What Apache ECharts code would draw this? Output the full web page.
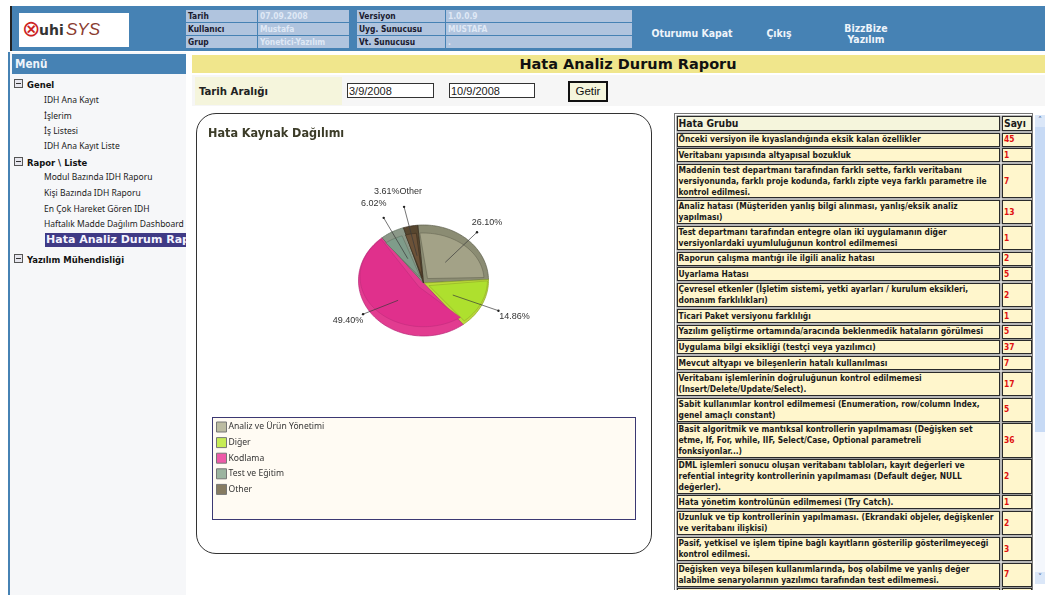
<!DOCTYPE html>
<html lang="tr">
<head>
<meta charset="utf-8">
<title>Hata Analiz Durum Raporu</title>
<script src="https://cdn.jsdelivr.net/npm/echarts@6/dist/echarts.min.js"></script>
<style>
  html, body { margin: 0; padding: 0; background: #fff; }
  body { position: relative; width: 1045px; height: 595px; overflow: hidden; font-family: "DejaVu Sans", sans-serif; }
  .box { position: absolute; box-sizing: border-box; }
  .txt { position: absolute; white-space: pre; line-height: 1; }
  .vb { font-family: "DejaVu Sans Condensed", "DejaVu Sans", sans-serif; font-weight: bold; }
  .wb { font-family: "DejaVu Sans", sans-serif; font-weight: bold; }
  #topbar { left: 10px; top: 6px; width: 1035px; height: 45px; background: #4682b4; border-left: 2px solid #222; }
  #logo { left: 19px; top: 13px; width: 110px; height: 34px; background: #fff; }
  .infocell { position: absolute; background: #b0c4de; height: 12.4px; font-size: 8.4px; line-height: 12px; padding-left: 2px; box-sizing: border-box; white-space: pre; }
  .infolabel { color: #1a1a2e; }
  .infovalue { color: #dfe8f5; }
  .toplink { position: absolute; color: #eef4fa; font-size: 10.4px; text-align: center; line-height: 11px; white-space: pre; }
  #side { left: 8px; top: 52px; width: 178px; height: 543px; background: #f6f7f9; border-left: 2px solid #4682b4; }
  #menuhead { left: 12px; top: 54px; width: 174px; height: 20px; background: #4682b4; color: #eef4fa; font-size: 11.6px; line-height: 20px; padding-left: 3px; }
  .menuitem { position: absolute; left: 44px; font-family: "Noto Sans", sans-serif; font-size: 8.5px; color: #222; line-height: 1; white-space: pre; }
  .menugroup { position: absolute; left: 27px; font-size: 9.4px; color: #111; line-height: 1; white-space: pre; }
  .expander { position: absolute; left: 14px; width: 9px; height: 9px; box-sizing: border-box; border: 1px solid #555; background: #e6e6ee; }
  .expander::after { content: ""; position: absolute; left: 1px; right: 1px; top: 3px; height: 1px; background: #333; }
  #selected { left: 45px; top: 233px; width: 141px; height: 14px; background: #3f3a85; color: #f4f4ff; font-size: 11px; line-height: 14px; padding-left: 1px; overflow: hidden; white-space: pre; }
  #titlebar { left: 192px; top: 55px; width: 853px; height: 18px; padding-left: 19px; background: #f0e68c; color: #111; font-size: 14.5px; line-height: 18px; text-align: center; }
  #filterrow { left: 192px; top: 75px; width: 853px; height: 31px; background: #f6f6f6; }
  #rangecell { left: 195px; top: 77px; width: 147px; height: 28px; background: #f5f5dc; color: #222; font-size: 11.3px; line-height: 30px; padding-left: 4px; }
  .dateinput { position: absolute; top: 83px; height: 15px; box-sizing: border-box; background: #fff; border: 1px solid #333; font-family: "Liberation Sans", sans-serif; font-size: 11px; line-height: 14px; padding-left: 1px; color: #222; }
  #fetch { left: 568px; top: 81px; width: 40px; height: 21px; background: #f5f5dc; border: 2.5px solid #111; font-family: "Liberation Sans", sans-serif; font-size: 11.5px; line-height: 16px; text-align: center; color: #111; }
  #panel { left: 196px; top: 113px; width: 456px; height: 441px; background: #fff; border: 1px solid #333; border-radius: 20px; }
  #legendbox { left: 212px; top: 417px; width: 424px; height: 103px; background: #fffbf3; border: 1px solid #3b3872; }
  #chart { position: absolute; left: 196px; top: 113px; width: 456px; height: 441px; }
  #gridwrap { left: 674px; top: 113px; width: 359px; height: 477px; overflow: hidden; border: 1px solid #777; border-bottom: 0; }
  .cell { position: absolute; box-sizing: border-box; border: 1px solid #2a2a2a; box-shadow: 0 0 0 0.6px #888; padding: 0 1px; background: #fff6cc; color: #1a1a1a; font-size: 8.4px; line-height: 10.8px; white-space: pre; overflow: hidden; display: flex; align-items: center; }
  .cell.head { background: #f5f5dc; font-size: 10.3px; color: #1a1a1a; }
  .cell.count { color: #e01010; }
  #scroll { left: 1035px; top: 115px; width: 10px; height: 469px; background: #f4f7fc; }
  #thumb { left: 1035px; top: 127px; width: 10px; height: 305px; background: #c7daf5; }
  .arrow { position: absolute; left: 1035px; width: 10px; height: 12px; background: #dbe7f8; color: #4a6a9a; font-size: 8px; line-height: 12px; text-align: center; }
</style>
</head>
<body>
<div class="box" id="topbar"></div>
<div class="box" id="logo"></div>
<div class="txt" style="left:22px;top:18px;font-size:22px;font-family:'DejaVu Sans',sans-serif;color:#c22">&#8855;</div>
<div class="txt wb" style="left:39px;top:23px;font-size:14px;color:#333">uhi</div>
<div class="txt" style="left:66px;top:21px;font-size:17px;font-family:'Liberation Sans',sans-serif;font-style:italic;color:#8a3c30">SYS</div>
<div id="info"></div>
<div class="toplink vb" style="left:640px;top:28px;width:104px">Oturumu Kapat</div>
<div class="toplink vb" style="left:760px;top:28px;width:38px">Çıkış</div>
<div class="toplink vb" style="left:836px;top:23px;width:60px">BizzBize
Yazılım</div>

<div class="box" id="side"></div>
<div class="box vb" id="menuhead">Menü</div>
<div id="menu"></div>
<div class="box wb" id="selected">Hata Analiz Durum Raporu</div>

<div class="box wb" id="titlebar">Hata Analiz Durum Raporu</div>
<div class="box" id="filterrow"></div>
<div class="box vb" id="rangecell">Tarih Aralığı</div>
<div class="dateinput" style="left:347px;width:87px">3/9/2008</div>
<div class="dateinput" style="left:449px;width:86px">10/9/2008</div>
<div class="box" id="fetch">Getir</div>

<div class="box" id="panel"></div>
<div class="box" id="legendbox"></div>
<div id="chart"></div>

<div class="box" id="gridwrap"></div>
<div class="box" id="scroll"></div>
<div class="box" id="thumb"></div>
<div class="arrow" style="top:115px">&#708;</div>
<div class="arrow" style="top:572px">&#709;</div>

<script>
// Error source distribution (percent of all reported errors)
const sourceNames = ['Analiz ve Ürün Yönetimi', 'Diğer', 'Kodlama', 'Test ve Eğitim', 'Other'];
const sourceShares = [26.10, 14.86, 49.40, 6.02, 3.61];
const sourceLabels = ['26.10%', '14.86%', '49.40%', '6.02%', '3.61%Other'];

// Error groups and how many errors fell in each
const errorGroups = [
  'Önceki versiyon ile kıyaslandığında eksik kalan özellikler',
  'Veritabanı yapısında altyapısal bozukluk',
  'Maddenin test departmanı tarafından farklı sette, farklı veritabanı\nversiyonunda, farklı proje kodunda, farklı zipte veya farklı parametre ile\nkontrol edilmesi.',
  'Analiz hatası (Müşteriden yanlış bilgi alınması, yanlış/eksik analiz\nyapılması)',
  'Test departmanı tarafından entegre olan iki uygulamanın diğer\nversiyonlardaki uyumluluğunun kontrol edilmemesi',
  'Raporun çalışma mantığı ile ilgili analiz hatası',
  'Uyarlama Hatası',
  'Çevresel etkenler (İşletim sistemi, yetki ayarları / kurulum eksikleri,\ndonanım farklılıkları)',
  'Ticari Paket versiyonu farklılığı',
  'Yazılım geliştirme ortamında/aracında beklenmedik hataların görülmesi',
  'Uygulama bilgi eksikliği (testçi veya yazılımcı)',
  'Mevcut altyapı ve bileşenlerin hatalı kullanılması',
  'Veritabanı işlemlerinin doğruluğunun kontrol edilmemesi\n(Insert/Delete/Update/Select).',
  'Sabit kullanımlar kontrol edilmemesi (Enumeration, row/column Index,\ngenel amaçlı constant)',
  'Basit algoritmik ve mantıksal kontrollerin yapılmaması (Değişken set\netme, If, For, while, IIF, Select/Case, Optional parametreli\nfonksiyonlar...)',
  'DML işlemleri sonucu oluşan veritabanı tabloları, kayıt değerleri ve\nrefential integrity kontrollerinin yapılmaması (Default değer, NULL\ndeğerler).',
  'Hata yönetim kontrolünün edilmemesi (Try Catch).',
  'Uzunluk ve tip kontrollerinin yapılmaması. (Ekrandaki objeler, değişkenler\nve veritabanı ilişkisi)',
  'Pasif, yetkisel ve işlem tipine bağlı kayıtların gösterilip gösterilmeyeceği\nkontrol edilmesi.',
  'Değişken veya bileşen kullanımlarında, boş olabilme ve yanlış değer\nalabilme senaryolarının yazılımcı tarafından test edilmemesi.'
];
const errorCounts = [45, 1, 7, 13, 1, 2, 5, 2, 1, 5, 37, 7, 17, 5, 36, 2, 1, 2, 3, 7];

// Header information block
const infoRows = [
  ['Tarih', '07.09.2008', 'Versiyon', '1.0.0.9'],
  ['Kullanıcı', 'Mustafa', 'Uyg. Sunucusu', 'MUSTAFA'],
  ['Grup', 'Yönetici-Yazılım', 'Vt. Sunucusu', '.']
];

// Navigation tree: [label, isGroup, top]
const menuEntries = [
  ['Genel', true, 80], ['IDH Ana Kayıt', false, 96], ['İşlerim', false, 111.5],
  ['İş Listesi', false, 127], ['IDH Ana Kayıt Liste', false, 142],
  ['Rapor \\ Liste', true, 158], ['Modul Bazında IDH Raporu', false, 173],
  ['Kişi Bazında IDH Raporu', false, 189], ['En Çok Hareket Gören IDH', false, 204.5],
  ['Haftalık Madde Dağılım Dashboard', false, 219.5], ['Yazılım Mühendisliği', true, 255]
];

// Page chrome built from the lists above
const infoHost = document.getElementById('info');
const infoCols = [[186, 71], [258, 91], [357, 88], [446, 186]];
infoRows.forEach((row, r) => row.forEach((text, c) => {
  const el = document.createElement('div');
  el.className = 'infocell vb ' + (c % 2 ? 'infovalue' : 'infolabel');
  el.style.left = infoCols[c][0] + 'px';
  el.style.width = infoCols[c][1] + 'px';
  el.style.top = 10 + r * 13 + 'px';
  el.textContent = text;
  infoHost.appendChild(el);
}));

const menuHost = document.getElementById('menu');
menuEntries.forEach(([text, isGroup, top]) => {
  const el = document.createElement('div');
  el.className = isGroup ? 'menugroup vb' : 'menuitem';
  el.style.top = top + 'px';
  el.textContent = text;
  menuHost.appendChild(el);
  if (isGroup) {
    const ex = document.createElement('div');
    ex.className = 'expander';
    ex.style.top = top - 1 + 'px';
    menuHost.appendChild(ex);
  }
});

// Error table: rows stacked by the number of text lines they hold
const gridHost = document.getElementById('gridwrap');
const rowPitch = { 1: 15.75, 2: 25.75, 3: 36 };
function addCell(text, cls, left, top, width, height) {
  const el = document.createElement('div');
  el.className = 'cell vb ' + cls;
  el.style.cssText = `left:${left}px;top:${top}px;width:${width}px;height:${height}px`;
  el.textContent = text;
  gridHost.appendChild(el);
}
addCell('Hata Grubu', 'head', 1.5, 2, 323, 15.2);
addCell('Sayı', 'head', 327, 2, 29.5, 15.2);
let rowTop = 18.7;
errorGroups.forEach((text, i) => {
  const pitch = rowPitch[text.split('\n').length];
  addCell(text, '', 1.5, rowTop, 323, pitch - 1.7);
  addCell(String(errorCounts[i]), 'count', 327, rowTop, 29.5, pitch - 1.7);
  rowTop += pitch;
});
addCell('', '', 1.5, rowTop, 323, 14);
addCell('', 'count', 327, rowTop, 29.5, 14);

// Tilted pie drawn with custom series: every slice's sweep comes from its share
const faceColors = ['#a3a287', '#aee02e', '#e0308c', '#7f9c8a', '#6c5238'];
const rimColors = ['#8b8c73', '#bcd93a', '#e23c90', '#8b9888', '#57462f'];
const edgeColors = ['#5c5d4b', '#86a324', '#b82a78', '#5a6a58', '#33291b'];
const legendColors = ['#bcbca2', '#c6ec55', '#ee5aa8', '#9cb4a0', '#867b62'];
const reach = [[1.23, 1.23], [1.28, 1.15], [1.19, 0.9], [1.27, 1.34], [1.5, 1.4]];
const labelOffset = [[10, -10], [16, 6], [-15, 6], [-10, -14], [-6, -15]];

const apex = [227.5, 170];
const outer = { cx: 227.5, cy: 167.5, rx: 65, ry: 55.5 };
const faceEllipse = [
  { cx: 227, cy: 167, rx: 61, ry: 47 },
  { cx: 227.5, cy: 167, rx: 64, ry: 53 },
  { cx: 227.5, cy: 163.7, rx: 63.5, ry: 50 },
  { cx: 227, cy: 167, rx: 61, ry: 47 },
  { cx: 227, cy: 167, rx: 61, ry: 47 }
];
const startAngle = -5;
const total = sourceShares.reduce((a, b) => a + b, 0);

function sweep(index) {
  const before = sourceShares.slice(0, index).reduce((a, b) => a + b, 0);
  const from = startAngle + before / total * 360;
  return [from, from + sourceShares[index] / total * 360];
}
function onEllipse(e, deg) {
  const t = deg * Math.PI / 180;
  return [e.cx + e.rx * Math.sin(t), e.cy - e.ry * Math.cos(t)];
}
function sector(tip, e, from, to) {
  const pts = [tip];
  for (let a = from; a < to; a += 2) pts.push(onEllipse(e, a));
  pts.push(onEllipse(e, to));
  return pts;
}

function renderSlice(params, api) {
  const index = params.seriesIndex;
  const [from, to] = sweep(index);
  const mid = (from + to) / 2;
  const rad = mid * Math.PI / 180;
  const dir = [Math.sin(rad), -Math.cos(rad)];
  const faceTip = [apex[0] + dir[0] * 6, apex[1] + dir[1] * 6];
  const inset = Math.min(2, (to - from) / 10);
  const anchor = [apex[0] + dir[0] * outer.rx * 0.5, apex[1] + dir[1] * outer.ry * 0.5];
  const tipEnd = [apex[0] + dir[0] * outer.rx * reach[index][0], apex[1] + dir[1] * outer.ry * reach[index][1]];
  const edge = edgeColors[index];
  return {
    type: 'group',
    children: [
      { type: 'polygon', shape: { points: sector(apex, outer, from, to) },
        style: { fill: rimColors[index], stroke: edge, lineWidth: 0.7 } },
      { type: 'polygon', shape: { points: sector(faceTip, faceEllipse[index], from + inset, to - inset) },
        style: { fill: faceColors[index], stroke: edge, lineWidth: 0.5 } },
      { type: 'line', shape: { x1: anchor[0], y1: anchor[1], x2: tipEnd[0], y2: tipEnd[1] },
        style: { stroke: '#3a3a3a', lineWidth: 0.7 } },
      { type: 'circle', shape: { cx: tipEnd[0], cy: tipEnd[1], r: 1.2 }, style: { fill: '#222' } },
      { type: 'text', x: tipEnd[0] + labelOffset[index][0], y: tipEnd[1] + labelOffset[index][1],
        style: { text: sourceLabels[index], fill: '#333', font: '9px "Liberation Sans", sans-serif',
                 align: 'center', verticalAlign: 'middle' } }
    ]
  };
}

const chart = echarts.init(document.getElementById('chart'), null, { renderer: 'canvas' });
chart.setOption({
  animation: false,
  title: {
    text: 'Hata Kaynak Dağılımı', left: 12, top: 14, padding: 0,
    textStyle: { fontFamily: '"DejaVu Sans Condensed", "DejaVu Sans", sans-serif', fontSize: 12.5, fontWeight: 'bold', color: '#3c3c28' }
  },
  legend: {
    orient: 'vertical', left: 20, top: 308.5, padding: 0, itemWidth: 10, itemHeight: 10, itemGap: 4.6,
    icon: 'rect', selectedMode: false,
    textStyle: { fontFamily: '"Noto Sans", sans-serif', fontSize: 8.6, color: '#333', padding: [0, 0, 0, -3] },
    data: sourceNames.map((name, i) => ({
      name,
      itemStyle: { color: legendColors[i], borderColor: '#777', borderWidth: 1 }
    }))
  },
  series: sourceNames.map((name, i) => ({
    type: 'custom',
    name,
    coordinateSystem: 'none',
    renderItem: renderSlice,
    itemStyle: { color: legendColors[i] },
    data: [[sourceShares[i]]]
  }))
});
</script>
</body>
</html>
